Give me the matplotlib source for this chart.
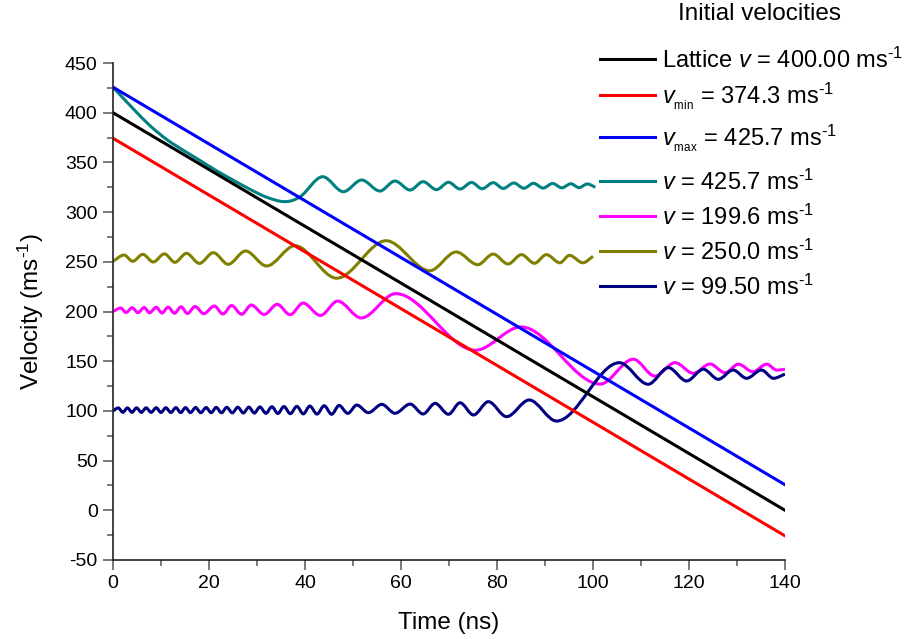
import numpy as np
import matplotlib
matplotlib.use("Agg")
import matplotlib.pyplot as plt
from matplotlib.path import Path
from matplotlib.patches import PathPatch, Rectangle
from matplotlib.lines import Line2D
from matplotlib.ticker import MultipleLocator

plt.rcParams['font.family'] = ['Liberation Sans', 'DejaVu Sans']
plt.rcParams['mathtext.fontset'] = 'custom'
plt.rcParams['mathtext.rm'] = 'Liberation Sans'
plt.rcParams['mathtext.it'] = 'Liberation Sans:italic'
plt.rcParams['mathtext.bf'] = 'Liberation Sans:bold'
plt.rcParams['axes.unicode_minus'] = False

# ---------------- data ----------------
line_t = [0.0, 140.0]
lattice_v = [400.0, 0.0]
vmin_v = [374.3, -25.7]
vmax_v = [425.7, 25.7]

teal_t = [0.0, 4.2, 7.7, 11.2, 14.7, 18.1, 21.6, 25.1, 28.5, 32.0, 35.8, 39.0, 43.7,
          48.0, 51.8, 55.6, 58.75, 61.9, 64.6, 67.4, 69.9, 72.3, 74.7, 76.9, 79.2,
          81.3, 83.5, 85.6, 87.6, 89.6, 91.6, 93.5, 95.4, 97.1, 98.8, 100.5]
teal_v = [425.7, 404.0, 387.0, 373.0, 362.0, 352.0, 341.5, 332.0, 323.0, 315.0, 310.5, 315.5, 335.6,
          320.5, 332.3, 321.2, 331.3, 322.2, 330.6, 322.6, 330.0, 323.2, 329.8, 323.5, 329.6,
          323.8, 329.3, 324.0, 329.0, 324.2, 328.8, 324.4, 328.5, 324.6, 328.3, 325.0]

olive_t = [0.0, 2.3, 4.1, 6.2, 8.4, 10.7, 12.9, 15.3, 18.0, 20.9, 24.0, 27.6, 32.0, 37.9,
           46.6, 56.9, 66.0, 71.5, 76.0, 79.2, 82.3, 85.1, 87.8, 90.3, 93.1, 95.1, 97.9, 100.0]
olive_v = [250.5, 256.8, 250.5, 257.5, 249.8, 258.0, 249.5, 258.5, 248.4, 259.2, 247.5, 260.9, 245.8, 266.2,
           233.5, 271.2, 241.0, 259.9, 247.1, 257.8, 247.8, 257.2, 248.5, 257.2, 249.0, 256.5, 249.0, 255.5]

magenta_t = [0.0, 1.6, 2.7, 4.0, 5.2, 6.5, 7.6, 9.0, 10.2, 11.5, 12.8, 14.2, 15.5, 17.1, 18.9,
             21.1, 22.9, 24.7, 26.8, 28.8, 31.5, 34.2, 36.9, 39.6, 43.2, 46.8, 51.7, 58.9,
             75.5, 85.0, 101.5, 108.4, 112.9, 117.1, 120.9, 124.4, 127.5, 130.3, 133.3,
             136.2, 138.3, 140.0]
magenta_v = [200.0, 203.5, 199.0, 203.8, 198.8, 204.0, 198.7, 204.2, 198.5, 204.4, 198.3, 204.7, 198.0, 205.0, 197.8,
             205.5, 197.5, 206.0, 197.2, 206.5, 197.0, 207.2, 196.8, 208.5, 196.0, 210.5, 193.5, 218.0,
             161.0, 184.5, 127.0, 152.0, 135.0, 148.5, 137.8, 147.2, 138.4, 147.0, 139.4,
             147.0, 141.0, 142.0]

navy_t = [0.0, 1.1, 2.05, 3.0, 3.95, 4.9, 5.9, 6.9, 7.95, 9.0, 10.0, 11.0, 12.05, 13.1, 14.1,
          15.1, 16.15, 17.2, 18.3, 19.4, 20.45, 21.5, 22.6, 23.7, 24.85, 26.0, 27.15, 28.3,
          29.45, 30.6, 31.85, 33.1, 34.35, 35.6, 36.95, 38.3, 39.65, 41.0, 42.5, 44.0, 45.55,
          47.1, 48.9, 50.8, 53.2, 56.0, 58.75, 61.9, 64.6, 67.1, 69.9, 72.3, 75.1, 78.2, 82.0,
          86.7, 92.4, 105.5, 111.5, 115.7, 119.5, 123.0, 126.1, 129.2, 132.0, 135.1, 137.6, 140.0]
navy_v = [100.0, 103.0, 98.6, 103.0, 98.6, 103.1, 98.5, 103.1, 98.5, 103.2, 98.4, 103.2, 98.4, 103.3, 98.3,
          103.3, 98.3, 103.4, 98.2, 103.4, 98.2, 103.5, 98.1, 103.6, 98.0, 103.7, 97.9, 103.8,
          97.8, 104.0, 97.6, 104.2, 97.4, 104.4, 97.2, 104.6, 97.0, 104.9, 96.8, 105.2, 96.6,
          105.5, 97.5, 105.9, 98.2, 106.6, 97.6, 106.9, 96.9, 107.6, 96.6, 108.2, 95.9, 109.3, 94.2,
          111.0, 89.8, 148.5, 126.8, 143.5, 130.1, 141.9, 131.8, 141.1, 132.8, 141.1, 132.8, 137.0]

legend_title = 'Initial velocities'
labels = ['Lattice $v$ = 400.00 ms$^{\\text{-1}}$',
          '$v_{_{\\mathrm{min}}}$ = 374.3 ms$^{\\text{-1}}$',
          '$v_{_{\\mathrm{max}}}$ = 425.7 ms$^{\\text{-1}}$',
          '$v$ = 425.7 ms$^{\\text{-1}}$',
          '$v$ = 199.6 ms$^{\\text{-1}}$',
          '$v$ = 250.0 ms$^{\\text{-1}}$',
          '$v$ = 99.50 ms$^{\\text{-1}}$']
colors = ['#000000', '#FF0000', '#0000FF', '#008080', '#FF00FF', '#808000', '#000080']


def smooth_path(t, v):
    t = np.asarray(t, float)
    v = np.asarray(v, float)
    n = len(t)
    m = np.zeros(n)
    for i in range(n):
        if i == 0:
            m[i] = (v[1] - v[0]) / (t[1] - t[0])
        elif i == n - 1:
            m[i] = (v[-1] - v[-2]) / (t[-1] - t[-2])
        else:
            if (v[i] - v[i - 1]) * (v[i + 1] - v[i]) <= 0:
                m[i] = 0.0
            else:
                m[i] = (v[i + 1] - v[i - 1]) / (t[i + 1] - t[i - 1])
    verts = [(t[0], v[0])]
    codes = [Path.MOVETO]
    for i in range(n - 1):
        h = t[i + 1] - t[i]
        verts += [(t[i] + h / 3, v[i] + m[i] * h / 3),
                  (t[i + 1] - h / 3, v[i + 1] - m[i + 1] * h / 3),
                  (t[i + 1], v[i + 1])]
        codes += [Path.CURVE4] * 3
    return Path(verts, codes)


W, H = 909, 639
fig = plt.figure(figsize=(W / 100, H / 100), dpi=100)
ax = fig.add_axes([113 / W, 1 - 560 / H, (785 - 113) / W, (560 - 63) / H])

lw = 2.2
ax.plot(line_t, lattice_v, color=colors[0], lw=lw)
ax.plot(line_t, vmin_v, color=colors[1], lw=lw)
ax.plot(line_t, vmax_v, color=colors[2], lw=lw)
for (tt, vv), c in zip([(teal_t, teal_v), (magenta_t, magenta_v), (olive_t, olive_v), (navy_t, navy_v)],
                       [colors[3], colors[4], colors[5], colors[6]]):
    ax.add_patch(PathPatch(smooth_path(tt, vv), facecolor='none', edgecolor=c, lw=lw,
                           transform=ax.transData, joinstyle='round', capstyle='butt'))

ax.set_xlim(0, 140)
ax.set_ylim(-50, 450)
ax.xaxis.set_major_locator(MultipleLocator(20))
ax.xaxis.set_minor_locator(MultipleLocator(10))
ax.yaxis.set_major_locator(MultipleLocator(50))
ax.yaxis.set_minor_locator(MultipleLocator(25))
for s in ['top', 'right']:
    ax.spines[s].set_visible(False)
for s in ['left', 'bottom']:
    ax.spines[s].set_linewidth(1.2)
    ax.spines[s].set_color('#222222')
ax.tick_params(which='major', direction='out', length=7, width=1.1, color='#555555', labelsize=14, pad=4)
ax.tick_params(which='minor', direction='out', length=4, width=1.1, color='#555555')
ax.set_xlabel('Time (ns)', fontsize=17.5, labelpad=14)
ax.set_ylabel('Velocity (ms$^{\\text{-1}}$)', fontsize=17.5, labelpad=14)

# ---- legend (Origin-style, drawn in figure pixels) ----
def fx(px):
    return px / W


def fy(py):
    return 1 - py / H


fig.add_artist(Rectangle((fx(596), fy(302)), fx(909) - fx(596), fy(30) - fy(302),
                         transform=fig.transFigure, facecolor='white', edgecolor='none', zorder=5))
row_y = [59, 94.5, 137, 181, 216, 251, 286]
for yy, c, lab in zip(row_y, colors, labels):
    fig.add_artist(Line2D([fx(600), fx(655)], [fy(yy), fy(yy)], color=c, lw=2.2,
                          transform=fig.transFigure, zorder=6))
    fig.text(fx(662), fy(yy + 8.5), lab, ha='left', va='baseline', fontsize=17, zorder=7)

fig.text(fx(760), fy(14), legend_title, ha='center', va='center', fontsize=17.5, zorder=7)

fig.savefig('out.png', dpi=100)
